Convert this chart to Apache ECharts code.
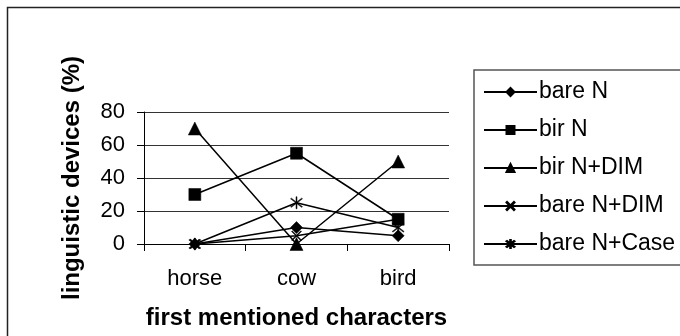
<!DOCTYPE html>
<html>
<head>
<meta charset="utf-8">
<script src="https://cdn.jsdelivr.net/npm/echarts@6/dist/echarts.min.js"></script>
<style>
  html, body { margin: 0; padding: 0; background: #fff; }
  #chart { width: 680px; height: 336px; }
</style>
</head>
<body>
<div id="chart"></div>
<script>
// Categories and percentages per linguistic device
const categories = ['horse', 'cow', 'bird'];
const bareN = [0, 10, 5];
const birN = [30, 55, 15];
const birNDim = [70, 0, 50];
const bareNDim = [0, 5, 15];
const bareNCase = [0, 25, 10];
const yTicks = [0, 20, 40, 60, 80];

const FONT = 'Liberation Sans, Arial, sans-serif';

// Custom marker shapes: thin cross and asterisk
const crossPath = 'path://M0,0.7 L0.7,0 L10,9.3 L9.3,10 Z M10,0.7 L9.3,0 L0,9.3 L0.7,10 Z';
const starPath = 'path://M0,0.7 L0.7,0 L10,9.3 L9.3,10 Z M10,0.7 L9.3,0 L0,9.3 L0.7,10 Z M4.6,-1.5 L5.4,-1.5 L5.4,11.5 L4.6,11.5 Z';

function lineSeries(name, data, symbol, size) {
  return {
    name: name,
    type: 'line',
    data: data,
    symbol: symbol,
    symbolSize: size,
    showAllSymbol: true,
    lineStyle: { color: '#000', width: 1.5 },
    itemStyle: { color: '#000', borderColor: '#000', borderWidth: 0.5 },
    emphasis: { disabled: true },
    animation: false
  };
}

const chart = echarts.init(document.getElementById('chart'), null, { renderer: 'canvas' });
chart.setOption({
  backgroundColor: '#fff',
  animation: false,
  textStyle: { fontFamily: FONT },
  graphic: [{
    type: 'rect',
    shape: { x: 7.5, y: 7.5, width: 720, height: 400 },
    style: { fill: 'none', stroke: '#222', lineWidth: 1.5 },
    silent: true,
    z: -1
  }],
  grid: { left: 144, right: 231, top: 112, bottom: 92, containLabel: false },
  xAxis: {
    type: 'category',
    data: categories,
    boundaryGap: true,
    name: 'first mentioned characters',
    nameLocation: 'middle',
    nameGap: 62,
    nameTextStyle: { fontFamily: FONT, fontSize: 24, fontWeight: 'bold', color: '#000' },
    axisLine: { lineStyle: { color: '#000', width: 1 } },
    axisTick: { show: true, length: 7, lineStyle: { color: '#000' } },
    axisLabel: { fontFamily: FONT, fontSize: 22, color: '#000', margin: 24 },
    splitLine: { show: false }
  },
  yAxis: {
    type: 'value',
    min: 0,
    max: 80,
    interval: 20,
    name: 'linguistic devices (%)',
    nameLocation: 'middle',
    nameGap: 60,
    nameRotate: 90,
    nameTextStyle: { fontFamily: FONT, fontSize: 24, fontWeight: 'bold', color: '#000' },
    axisLine: { show: true, lineStyle: { color: '#000', width: 1 } },
    axisTick: { show: true, length: 7, lineStyle: { color: '#000' } },
    axisLabel: {
      fontFamily: FONT, fontSize: 22, color: '#000', margin: 19,
      formatter: function (v) { return yTicks.indexOf(v) >= 0 ? String(v) : ''; }
    },
    splitLine: { show: true, lineStyle: { color: '#333', width: 1 } }
  },
  legend: {
    orient: 'vertical',
    left: 474,
    top: 70,
    padding: [10, 40, 9, 9],
    itemGap: 14,
    itemWidth: 53,
    itemHeight: 10,
    backgroundColor: '#fff',
    borderColor: '#555',
    borderWidth: 1.5,
    selectedMode: false,
    textStyle: { fontFamily: FONT, fontSize: 23, color: '#000', lineHeight: 24, padding: [0, 0, 0, -3] },
    data: ['bare N', 'bir N', 'bir N+DIM', 'bare N+DIM', 'bare N+Case']
  },
  series: [
    lineSeries('bare N', bareN, 'diamond', 12),
    lineSeries('bir N', birN, 'rect', 12),
    lineSeries('bir N+DIM', birNDim, 'triangle', 13),
    lineSeries('bare N+DIM', bareNDim, crossPath, 10),
    lineSeries('bare N+Case', bareNCase, starPath, 12)
  ]
});
</script>
</body>
</html>
